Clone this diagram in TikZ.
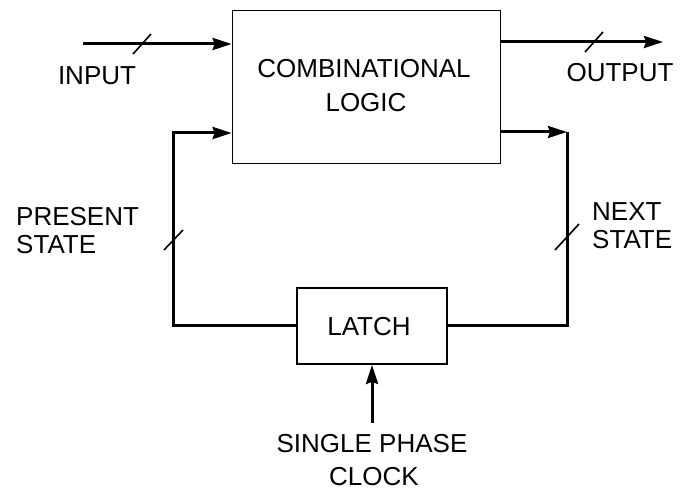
\documentclass[tikz,border=0pt]{standalone}
\usepackage{fontspec}
\setmainfont{Liberation Sans}
\usetikzlibrary{arrows.meta}
\begin{document}
\begin{tikzpicture}[x=1pt,y=-1pt,
  block/.style={draw,line width=1.8pt,inner sep=0pt},
  wire/.style={line width=3pt,line join=miter},
  tip/.style={-{Stealth[length=19pt,width=12pt,inset=2pt]}},
  buslabel/.style={font=\fontsize{26}{29}\selectfont,inner sep=0pt},
  busmark/.style={line width=1.6pt}]
\useasboundingbox (0,0) rectangle (684,494);
% blocks
\node[block,minimum width=268pt,minimum height=153pt] (comb) at (366.5,87) {};
\node[block,minimum width=150pt,minimum height=76pt] (latch) at (372,326) {};
% labels
\node[buslabel,anchor=base] (combtxt) at (364,78) {COMBINATIONAL};
\node[buslabel,anchor=base] (logictxt) at (366,112) {LOGIC};
\node[buslabel,anchor=base] (latchtxt) at (369,335) {LATCH};
\node[buslabel,anchor=base] (intxt) at (97,85) {INPUT};
\node[buslabel,anchor=base] (outtxt) at (620,82) {OUTPUT};
\node[buslabel,anchor=base west] (pstxt) at (16,225) {PRESENT};
\node[buslabel,anchor=base west] (pstxt2) at (16,253) {STATE};
\node[buslabel,anchor=base west] (nstxt) at (592,220) {NEXT};
\node[buslabel,anchor=base west] (nstxt2) at (592,248) {STATE};
\node[buslabel,anchor=base] (clktxt) at (372,452) {SINGLE PHASE};
\node[buslabel,anchor=base] (clktxt2) at (374,485) {CLOCK};
% wire end points and corners
\coordinate (inStart) at (83,44);
\coordinate (outEnd) at (663,42);
\coordinate (psTop) at (173,133);
\coordinate (psBot) at (173,325);
\coordinate (nsTop) at (567,132);
\coordinate (nsBot) at (567,325);
\coordinate (clkStart) at (372,423);
% input and output buses
\draw[wire,tip] (inStart) -- (inStart -| comb.west);
\draw[wire,tip] (outEnd -| comb.east) -- (outEnd);
% present state: latch back into the logic
\draw[wire,tip] (latch.west |- psBot) -- (psBot) -- (psTop) -- (psTop -| comb.west);
% next state: logic out to the latch
\draw[wire,tip] (nsTop -| comb.east) -- (nsTop);
\draw[wire] (nsTop) -- (nsBot) -- (latch.east |- nsBot);
% clock
\draw[wire,tip] (clkStart) -- (latch.south);
% bus width marks
\coordinate (m1) at (142,44);
\coordinate (m2) at (594,42);
\coordinate (m3) at (173,240);
\coordinate (m4) at (567,237);
\draw[busmark] ([shift={(-9,10)}]m1) -- ([shift={(9,-10)}]m1);
\draw[busmark] ([shift={(-9,10)}]m2) -- ([shift={(9,-10)}]m2);
\draw[busmark] ([shift={(-9,10)}]m3) -- ([shift={(10,-10)}]m3);
\draw[busmark] ([shift={(-12,13)}]m4) -- ([shift={(12,-13)}]m4);
\end{tikzpicture}
\end{document}
